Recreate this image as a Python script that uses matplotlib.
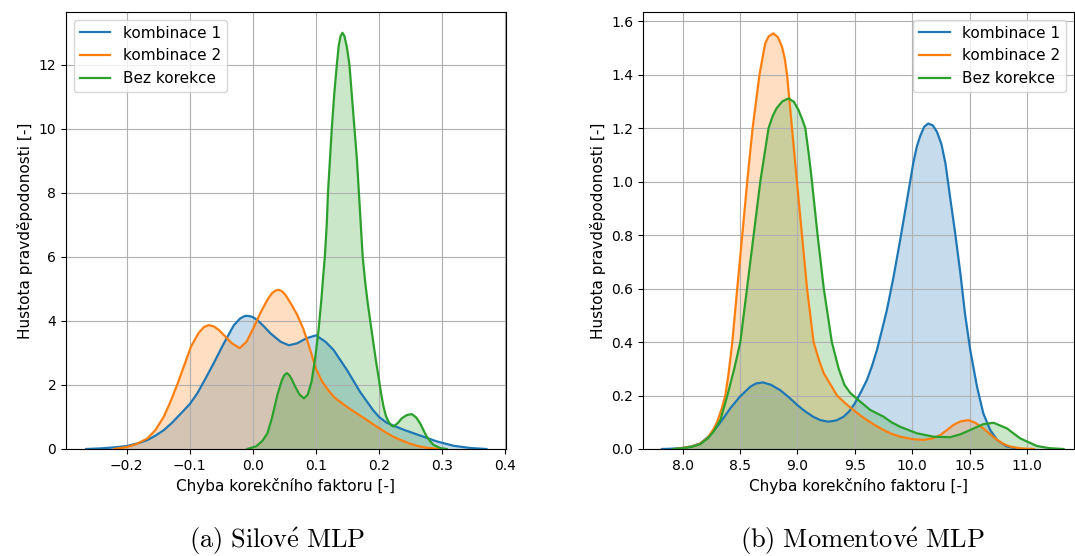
import matplotlib
matplotlib.use("Agg")
import matplotlib.pyplot as plt

plt.rcParams['mathtext.fontset'] = 'cm'

# (a) Silove MLP - density curves
sil_k1_x = [-0.264, -0.24, -0.22, -0.2, -0.18, -0.167, -0.154, -0.141, -0.128, -0.114, -0.1, -0.088,
            -0.075, -0.062, -0.046, -0.03, -0.02, -0.012, -0.005, 0.0, 0.007, 0.018, 0.028, 0.044,
            0.057, 0.07, 0.085, 0.1, 0.115, 0.128, 0.149, 0.17, 0.191, 0.2, 0.212, 0.239, 0.265,
            0.291, 0.318, 0.345, 0.37]
sil_k1_y = [0.0, 0.02, 0.05, 0.09, 0.19, 0.28, 0.42, 0.59, 0.82, 1.11, 1.4, 1.74,
            2.2, 2.68, 3.3, 3.87, 4.08, 4.16, 4.15, 4.12, 4.03, 3.82, 3.61, 3.35,
            3.24, 3.3, 3.46, 3.55, 3.35, 3.09, 2.47, 1.78, 1.2, 1.0, 0.82, 0.6, 0.42,
            0.24, 0.1, 0.03, 0.0]

sil_k2_x = [-0.22, -0.2, -0.185, -0.167, -0.154, -0.141, -0.13, -0.119, -0.108, -0.098, -0.086,
            -0.078, -0.07, -0.062, -0.054, -0.046, -0.033, -0.021, -0.01, 0.002, 0.012, 0.023,
            0.03, 0.036, 0.041, 0.046, 0.052, 0.06, 0.07, 0.08, 0.09, 0.1, 0.11, 0.12, 0.13,
            0.145, 0.16, 0.175, 0.19, 0.2, 0.212, 0.225, 0.238, 0.25, 0.262, 0.275, 0.29, 0.3]
sil_k2_y = [0.0, 0.06, 0.15, 0.33, 0.6, 1.01, 1.5, 2.05, 2.65, 3.2, 3.62,
            3.8, 3.87, 3.83, 3.72, 3.56, 3.3, 3.15, 3.35, 3.82, 4.25, 4.66,
            4.86, 4.95, 4.97, 4.93, 4.8, 4.55, 4.2, 3.75, 3.15, 2.5, 2.1, 1.82, 1.6,
            1.37, 1.17, 0.98, 0.78, 0.65, 0.5, 0.36, 0.25, 0.16, 0.09, 0.04, 0.01, 0.0]

sil_bez_x = [-0.009, 0.005, 0.015, 0.023, 0.03, 0.039, 0.046, 0.05, 0.054, 0.058, 0.061, 0.067,
             0.074, 0.081, 0.087, 0.093, 0.099, 0.104, 0.1085, 0.111, 0.114, 0.117, 0.119, 0.122,
             0.125, 0.129, 0.133, 0.136, 0.139, 0.142, 0.145, 0.149, 0.153, 0.157, 0.161,
             0.165, 0.168, 0.171, 0.174, 0.178, 0.182, 0.187, 0.191, 0.195, 0.199, 0.203,
             0.207, 0.211, 0.215, 0.219, 0.223, 0.23, 0.236, 0.244, 0.252, 0.259, 0.265,
             0.27, 0.275, 0.281, 0.286, 0.297, 0.307]
sil_bez_y = [0.0, 0.08, 0.25, 0.49, 0.95, 1.7, 2.15, 2.31, 2.37, 2.3, 2.2, 1.95,
             1.7, 1.58, 1.7, 2.1, 2.88, 3.7, 4.66, 5.3, 6.0, 7.0, 8.0, 9.0,
             10.0, 11.1, 12.0, 12.6, 12.9, 13.0, 12.9, 12.55, 12.0, 11.0, 10.0,
             9.0, 8.0, 7.0, 6.0, 5.2, 4.55, 3.85, 3.3, 2.75, 2.26, 1.75,
             1.32, 1.02, 0.85, 0.74, 0.7, 0.82, 0.96, 1.06, 1.09, 0.98, 0.8,
             0.6, 0.4, 0.24, 0.13, 0.03, 0.0]

# (b) Momentove MLP
mom_k1_x = [7.82, 7.9, 8.0, 8.08, 8.154, 8.23, 8.3, 8.36, 8.415, 8.5, 8.59, 8.64, 8.7, 8.77,
            8.85, 8.93, 9.0, 9.07, 9.14, 9.2, 9.27, 9.34, 9.4, 9.45, 9.5, 9.55, 9.606, 9.65,
            9.693, 9.74, 9.78, 9.838, 9.895, 9.955, 10.01, 10.04, 10.07, 10.105, 10.14, 10.18,
            10.216, 10.255, 10.29, 10.33, 10.375, 10.42, 10.46, 10.506, 10.565, 10.62, 10.68,
            10.74, 10.826, 10.91, 10.97]
mom_k1_y = [0.0, 0.001, 0.004, 0.01, 0.021, 0.048, 0.083, 0.118, 0.152, 0.196, 0.233, 0.245,
            0.249, 0.24, 0.22, 0.192, 0.164, 0.14, 0.12, 0.108, 0.102, 0.107, 0.12, 0.14,
            0.17, 0.21, 0.258, 0.31, 0.37, 0.45, 0.52, 0.644, 0.78, 0.93, 1.07, 1.13,
            1.17, 1.205, 1.217, 1.21, 1.186, 1.14, 1.068, 0.943, 0.806, 0.657, 0.507, 0.37,
            0.233, 0.133, 0.071, 0.034, 0.009, 0.002, 0.0]

mom_k2_x = [7.94, 8.0, 8.08, 8.154, 8.22, 8.27, 8.3, 8.34, 8.372, 8.4, 8.433, 8.476, 8.52,
            8.563, 8.61, 8.67, 8.72, 8.75, 8.79, 8.83, 8.866, 8.89, 8.91, 8.953, 8.996, 9.04,
            9.084, 9.141, 9.19, 9.23, 9.29, 9.345, 9.42, 9.49, 9.55, 9.606, 9.68, 9.75, 9.82,
            9.896, 10.0, 10.1, 10.18, 10.245, 10.3, 10.36, 10.42, 10.49, 10.55, 10.62, 10.68,
            10.74, 10.8, 10.855, 10.95, 11.06]
mom_k2_y = [0.0, 0.004, 0.009, 0.02, 0.042, 0.075, 0.1, 0.15, 0.2, 0.28, 0.4, 0.6, 0.8,
            1.0, 1.2, 1.4, 1.517, 1.543, 1.554, 1.54, 1.504, 1.46, 1.4, 1.2, 1.0, 0.8,
            0.6, 0.4, 0.33, 0.283, 0.24, 0.2, 0.17, 0.145, 0.125, 0.108, 0.088, 0.071, 0.057,
            0.046, 0.037, 0.034, 0.04, 0.052, 0.07, 0.09, 0.103, 0.108, 0.098, 0.077, 0.055,
            0.034, 0.018, 0.009, 0.002, 0.0]

mom_bez_x = [7.92, 8.0, 8.08, 8.154, 8.22, 8.27, 8.33, 8.39, 8.45, 8.503, 8.561, 8.619, 8.677,
             8.749, 8.785, 8.82, 8.87, 8.923, 8.97, 9.01, 9.04, 9.069, 9.1, 9.127, 9.176, 9.23,
             9.3, 9.36, 9.41, 9.46, 9.548, 9.635, 9.75, 9.82, 9.896, 10.04, 10.186, 10.33,
             10.42, 10.506, 10.62, 10.71, 10.826, 10.94, 11.087, 11.2, 11.32]
mom_bez_y = [0.0, 0.003, 0.008, 0.018, 0.04, 0.065, 0.11, 0.2, 0.3, 0.4, 0.6, 0.8, 1.0,
             1.2, 1.245, 1.275, 1.3, 1.311, 1.298, 1.267, 1.235, 1.2, 1.1, 1.0, 0.8, 0.6,
             0.4, 0.3, 0.24, 0.21, 0.177, 0.146, 0.121, 0.1, 0.083, 0.059, 0.046, 0.044,
             0.055, 0.071, 0.093, 0.098, 0.077, 0.04, 0.011, 0.003, 0.0]

labels = ['kombinace 1', 'kombinace 2', 'Bez korekce']
colors = ['#1f77b4', '#ff7f0e', '#2ca02c']

sil_xticks = [-0.2, -0.1, 0.0, 0.1, 0.2, 0.3, 0.4]
sil_yticks = [0, 2, 4, 6, 8, 10, 12]
mom_xticks = [8.0, 8.5, 9.0, 9.5, 10.0, 10.5, 11.0]
mom_yticks = [0.0, 0.2, 0.4, 0.6, 0.8, 1.0, 1.2, 1.4, 1.6]


def kde_panel(ax, curves, xlim, ylim, xticks, yticks, loc):
    for (x, y), lab, c in zip(curves, labels, colors):
        ax.fill_between(x, y, 0, color=c, alpha=0.25, lw=0)
        ax.plot(x, y, color=c, lw=1.6, label=lab, solid_joinstyle='round')
    ax.set_xlim(*xlim)
    ax.set_ylim(*ylim)
    ax.set_xticks(xticks)
    ax.set_yticks(yticks)
    ax.tick_params(labelsize=10)
    ax.grid(True)
    ax.set_xlabel('Chyba korekčního faktoru [-]', fontsize=11)
    ax.set_ylabel('Hustota pravděpodonosti [-]', fontsize=11)
    ax.legend(loc=loc, fontsize=11)


fig = plt.figure(figsize=(10.75, 5.56), dpi=100)
ax1 = fig.add_axes([66 / 1075, 107 / 556, 440 / 1075, 437 / 556])
ax2 = fig.add_axes([643 / 1075, 107 / 556, 431 / 1075, 437 / 556])

kde_panel(ax1, [(sil_k1_x, sil_k1_y), (sil_k2_x, sil_k2_y), (sil_bez_x, sil_bez_y)],
          (-0.296, 0.401), (0, 13.65), sil_xticks, sil_yticks, 'upper left')
ax1.set_yticklabels([str(t) for t in sil_yticks])
kde_panel(ax2, [(mom_k1_x, mom_k1_y), (mom_k2_x, mom_k2_y), (mom_bez_x, mom_bez_y)],
          (7.655, 11.41), (0, 1.634), mom_xticks, mom_yticks, 'upper right')

fig.text(277 / 1075, 8 / 556, r'$\mathrm{(a)\ Silov\acute{e}\ MLP}$', fontsize=19,
         ha='center', va='baseline')
fig.text(862 / 1075, 8 / 556, r'$\mathrm{(b)\ Momentov\acute{e}\ MLP}$', fontsize=19,
         ha='center', va='baseline')

fig.savefig('out.png', dpi=100)
